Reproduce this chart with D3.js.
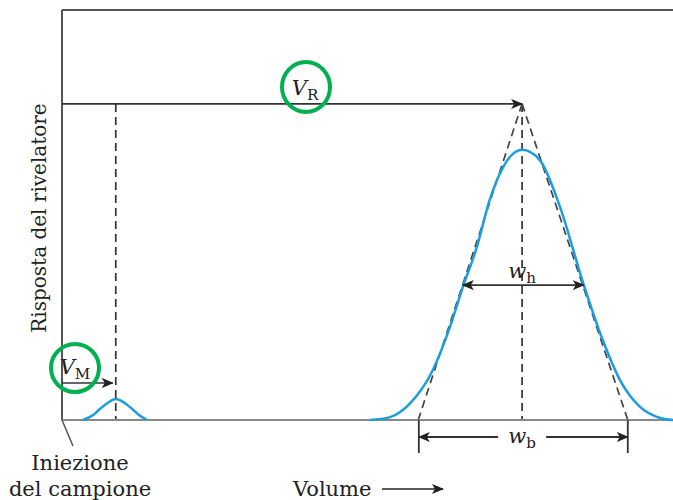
<!DOCTYPE html>
<html>
<head>
<meta charset="utf-8">
<script src="https://cdn.jsdelivr.net/npm/d3@7"></script>
<style>
  html, body { margin: 0; padding: 0; background: #fff; }
  svg { display: block; }
  text { font-family: "DejaVu Serif", "Liberation Serif", serif; fill: #222; }
</style>
</head>
<body>
<svg id="chart" width="673" height="500"></svg>
<script>
// Chromatogram: detector response against eluted volume
const peakVolume   = [50.4, 53.7, 57.0, 60.7, 63.5, 65.6, 67.9, 70.0, 72.2, 75.3, 78.2, 81.5, 85.3, 88.5, 91.3, 94.6, 97.9, 100];
const peakResponse = [0, 0.7, 4.1, 12.2, 22.7, 32.4, 42.2, 53.7, 61.7, 65.9, 63.4, 52.0, 33.4, 19.5, 9.8, 3.2, 0.5, 0];

const deadVolume   = [3.4, 5.1, 6.2, 7.4, 8.8, 10.3, 11.5, 12.6, 13.9];
const deadResponse = [0, 1.2, 2.7, 4.1, 5.1, 4.1, 2.7, 1.2, 0];

const VM = 8.8;            // dead volume
const VR = 75.3;           // retention volume
const apexResponse = 77.1; // crossing point of the inflection tangents
const tangentBase = [58.3, 92.6];
const halfLevel = 32.9;
const widthHalf = [65.6, 85.4];
const widthBase = [58.4, 92.6];

const svg = d3.select("#chart");
const x = d3.scaleLinear().domain([0, 100]).range([62, 673]);
const y = d3.scaleLinear().domain([0, 100]).range([420, 10]);

const defs = svg.append("defs");
defs.append("marker")
  .attr("id", "head")
  .attr("viewBox", "0 0 12 10")
  .attr("refX", 11).attr("refY", 5)
  .attr("markerWidth", 12).attr("markerHeight", 10)
  .attr("markerUnits", "userSpaceOnUse")
  .attr("orient", "auto-start-reverse")
  .append("path")
  .attr("d", "M0,0 L12,5 L0,10 L3,5 Z")
  .attr("fill", "#222");

// frame
svg.append("line")
  .attr("x1", x(0)).attr("x2", x(0)).attr("y1", y(100)).attr("y2", y(0))
  .attr("stroke", "#555").attr("stroke-width", 2);
svg.append("line")
  .attr("x1", x(0)).attr("x2", x(100)).attr("y1", y(100)).attr("y2", y(100))
  .attr("stroke", "#555").attr("stroke-width", 2);

// dashed guides
const dash = "8,5";
svg.append("line")
  .attr("x1", x(VM)).attr("x2", x(VM)).attr("y1", y(apexResponse)).attr("y2", y(0))
  .attr("stroke", "#333").attr("stroke-width", 1.7).attr("stroke-dasharray", dash);
svg.append("line")
  .attr("x1", x(VR)).attr("x2", x(VR)).attr("y1", y(apexResponse)).attr("y2", y(0))
  .attr("stroke", "#333").attr("stroke-width", 1.7).attr("stroke-dasharray", dash);
tangentBase.forEach(v => {
  svg.append("line")
    .attr("x1", x(VR)).attr("y1", y(apexResponse))
    .attr("x2", x(v)).attr("y2", y(0))
    .attr("stroke", "#444").attr("stroke-width", 1.7).attr("stroke-dasharray", dash);
});

// baseline
svg.append("line")
  .attr("x1", x(0)).attr("x2", x(100)).attr("y1", y(0)).attr("y2", y(0))
  .attr("stroke", "#888").attr("stroke-width", 2);

// injection pointer
svg.append("line")
  .attr("x1", x(0)).attr("y1", y(0)).attr("x2", x(0) + 11).attr("y2", y(0) + 26)
  .attr("stroke", "#555").attr("stroke-width", 1.5);

// peaks
const line = d3.line().x(d => x(d[0])).y(d => y(d[1])).curve(d3.curveMonotoneX);
svg.append("path")
  .datum(d3.zip(deadVolume, deadResponse))
  .attr("d", line).attr("fill", "none").attr("stroke", "#1a9ee0").attr("stroke-width", 2.5);
svg.append("path")
  .datum(d3.zip(peakVolume, peakResponse))
  .attr("d", line).attr("fill", "none").attr("stroke", "#1a9ee0").attr("stroke-width", 2.5);

// retention volume arrows
svg.append("line")
  .attr("x1", x(0)).attr("x2", x(VR)).attr("y1", y(apexResponse)).attr("y2", y(apexResponse))
  .attr("stroke", "#333").attr("stroke-width", 1.8).attr("marker-end", "url(#head)");
svg.append("line")
  .attr("x1", x(0)).attr("x2", x(VM) - 3).attr("y1", 383).attr("y2", 383)
  .attr("stroke", "#333").attr("stroke-width", 1.5).attr("marker-end", "url(#head)");

// half-height width
svg.append("line")
  .attr("x1", x(widthHalf[0])).attr("x2", x(widthHalf[1]))
  .attr("y1", y(halfLevel)).attr("y2", y(halfLevel))
  .attr("stroke", "#333").attr("stroke-width", 1.8)
  .attr("marker-start", "url(#head)").attr("marker-end", "url(#head)");

// base width
widthBase.forEach(v => {
  svg.append("line")
    .attr("x1", x(v)).attr("x2", x(v)).attr("y1", y(0)).attr("y2", y(0) + 33)
    .attr("stroke", "#333").attr("stroke-width", 1.8);
});
svg.append("line")
  .attr("x1", x(widthBase[0])).attr("x2", x(VR) - 24).attr("y1", 437).attr("y2", 437)
  .attr("stroke", "#333").attr("stroke-width", 1.8).attr("marker-start", "url(#head)");
svg.append("line")
  .attr("x1", x(VR) + 24).attr("x2", x(widthBase[1])).attr("y1", 437).attr("y2", 437)
  .attr("stroke", "#333").attr("stroke-width", 1.8).attr("marker-end", "url(#head)");

// symbol labels
function symbol(cx, cy, main, sub, size) {
  const t = svg.append("text").attr("x", cx).attr("y", cy).attr("text-anchor", "middle")
    .style("font-size", size + "px");
  t.append("tspan").text(main).style("font-style", "italic");
  t.append("tspan").text(sub).attr("dy", size * 0.22).style("font-size", (size * 0.72) + "px");
}
symbol(x(VR), y(halfLevel) - 7, "w", "h", 21);
symbol(x(VR), 443, "w", "b", 21);
symbol(305, 95, "V", "R", 21);
symbol(75, 374, "V", "M", 21);

// highlight rings
svg.append("ellipse").attr("cx", 306).attr("cy", 87).attr("rx", 24).attr("ry", 25)
  .attr("fill", "none").attr("stroke", "#00b050").attr("stroke-width", 4);
svg.append("circle").attr("cx", 75).attr("cy", 368).attr("r", 24)
  .attr("fill", "none").attr("stroke", "#00b050").attr("stroke-width", 4);

// axis titles
svg.append("text")
  .attr("transform", "translate(46,218) rotate(-90)")
  .attr("text-anchor", "middle")
  .style("font-size", "20px")
  .text("Risposta del rivelatore");

svg.append("text").attr("x", 80).attr("y", 470).attr("text-anchor", "middle")
  .style("font-size", "21px").text("Iniezione");
svg.append("text").attr("x", 80).attr("y", 496).attr("text-anchor", "middle")
  .style("font-size", "21px").text("del campione");

svg.append("text").attr("x", 293).attr("y", 496)
  .style("font-size", "21px").text("Volume");
svg.append("line")
  .attr("x1", 382).attr("x2", 443).attr("y1", 489).attr("y2", 489)
  .attr("stroke", "#222").attr("stroke-width", 1.5).attr("marker-end", "url(#head)");
</script>
</body>
</html>
